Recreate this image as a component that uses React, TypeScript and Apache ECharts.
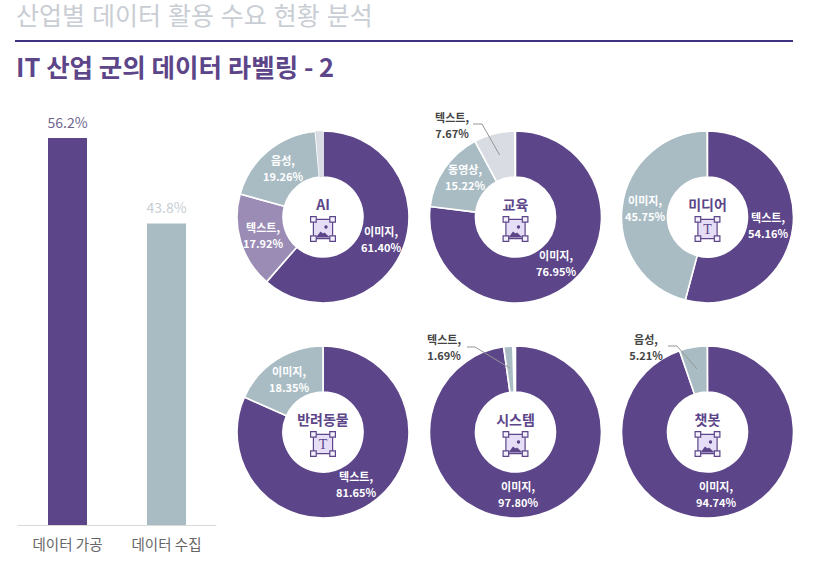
import React, { useEffect, useRef } from "react";
import * as echarts from "echarts";

const FONT = "'Noto Sans CJK KR', 'Noto Sans', sans-serif";
const HEAD_FONT = "'Liberation Sans', 'Noto Sans CJK KR', sans-serif";
const PURPLE = "#5c4589";
const LILAC = "#9b8cb6";
const STEEL = "#a9bcc4";
const PALE = "#d9dce2";

const barCategories = ["데이터 가공", "데이터 수집"];
const barValues = [56.2, 43.8];

const titles = ["AI", "교육", "미디어", "반려동물", "시스템", "챗봇"];
const iconKinds = ["image", "image", "text", "text", "image", "image"];

const aiNames = ["이미지", "텍스트", "음성", "기타"];
const aiValues = [61.4, 17.92, 19.26, 1.42];
const aiColors = [PURPLE, LILAC, STEEL, PALE];

const eduNames = ["이미지", "동영상", "텍스트", "기타"];
const eduValues = [76.95, 15.22, 7.67, 0.16];
const eduColors = [PURPLE, STEEL, PALE, "#ffffff"];

const mediaNames = ["텍스트", "이미지", "기타"];
const mediaValues = [54.16, 45.75, 0.09];
const mediaColors = [PURPLE, STEEL, "#ffffff"];

const petNames = ["텍스트", "이미지"];
const petValues = [81.65, 18.35];
const petColors = [PURPLE, STEEL];

const systemNames = ["이미지", "텍스트", "기타"];
const systemValues = [97.8, 1.69, 0.51];
const systemColors = [PURPLE, STEEL, "#ffffff"];

const chatNames = ["이미지", "음성", "기타"];
const chatValues = [94.74, 5.21, 0.05];
const chatColors = [PURPLE, STEEL, "#ffffff"];

const pieNames = [aiNames, eduNames, mediaNames, petNames, systemNames, chatNames];
const pieValues = [aiValues, eduValues, mediaValues, petValues, systemValues, chatValues];
const pieColors = [aiColors, eduColors, mediaColors, petColors, systemColors, chatColors];
const pieCenters = [
  [323, 217],
  [515.5, 217],
  [707.5, 217],
  [323, 432],
  [515.5, 432],
  [707.5, 432],
];
const R_OUT = 86;
const R_IN = 40;

// where each slice's two-line label is centred, per pie and slice
const labelSpots: Record<string, [number, number]> = {
  "0-0": [381, 239],
  "0-1": [263, 235],
  "0-2": [283, 168],
  "1-0": [556, 263],
  "1-1": [465, 177],
  "1-2": [452, 125],
  "2-0": [768, 225],
  "2-1": [645, 208],
  "3-0": [356, 484],
  "3-1": [289, 379],
  "4-0": [518, 494],
  "4-1": [444, 347],
  "5-0": [716, 494],
  "5-1": [646, 347],
};

// leader lines for the labels placed outside the ring
const callouts = [
  { pie: 1, slice: 2, ex: 482, ey: 124, sx: 473 },
  { pie: 4, slice: 1, ex: 475, ey: 347, sx: 467 },
  { pie: 5, slice: 1, ex: 677, ey: 346, sx: 668 },
];

function midAngle(values: number[], index: number) {
  const total = values.reduce((a, b) => a + b, 0);
  let before = 0;
  for (let i = 0; i < index; i++) before += values[i];
  return ((before + values[index] / 2) / total) * Math.PI * 2;
}

function iconGraphic(kind: string, cx: number, cy: number) {
  const half = 9.6;
  const corner = [
    [-half, -half],
    [half, -half],
    [-half, half],
    [half, half],
  ];
  const children: any[] = [
    {
      type: "rect",
      shape: { x: -half, y: -half, width: half * 2, height: half * 2 },
      style: { fill: "#e6def6", stroke: PURPLE, lineWidth: 1.2 },
    },
  ];
  if (kind === "image") {
    children.push(
      {
        type: "polygon",
        shape: { points: [[-7, 8.6], [-2.5, 2.5], [0, 4.5], [1.5, 3.5], [7, 8.6]] },
        style: { fill: PURPLE },
      },
      { type: "circle", shape: { cx: 3, cy: -2, r: 1.7 }, style: { fill: PURPLE } }
    );
  } else {
    children.push({
      type: "text",
      style: {
        x: 0,
        y: 0.5,
        text: "T",
        fill: PURPLE,
        font: "400 14px 'Liberation Serif', serif",
        align: "center",
        verticalAlign: "middle",
      },
    });
  }
  corner.forEach(([x, y]) =>
    children.push({
      type: "rect",
      shape: { x: x - 2.8, y: y - 2.8, width: 5.6, height: 5.6 },
      style: { fill: "#f4f0fb", stroke: PURPLE, lineWidth: 1.2 },
    })
  );
  return { type: "group", x: cx, y: cy, children };
}

export default function App() {
  const ref = useRef<HTMLDivElement>(null);
  useEffect(() => {
    const chart = echarts.init(ref.current!, undefined, { renderer: "svg" });

    const graphics: any[] = [
      {
        type: "text",
        style: { x: 16, y: 16, text: "산업별 데이터 활용 수요 현황 분석", fill: "#c9cdd4", font: `400 25px ${HEAD_FONT}`, verticalAlign: "middle" },
      },
      { type: "rect", shape: { x: 15, y: 40, width: 778, height: 2 }, style: { fill: "#3f3180" } },
      {
        type: "text",
        style: { x: 16, y: 65.5, text: "IT 산업 군의 데이터 라벨링 - 2", fill: PURPLE, font: `700 25.5px ${FONT}`, verticalAlign: "middle" },
      },
    ];

    titles.forEach((t, i) => {
      const [cx, cy] = pieCenters[i];
      graphics.push({
        type: "text",
        z: 10,
        style: { x: cx, y: cy - 13, text: t, fill: PURPLE, font: `700 14px ${FONT}`, align: "center", verticalAlign: "middle" },
      });
      graphics.push({ ...iconGraphic(iconKinds[i], cx, cy + 12), z: 10 });
    });

    callouts.forEach((c) => {
      const [cx, cy] = pieCenters[c.pie];
      const a = midAngle(pieValues[c.pie], c.slice);
      graphics.push({
        type: "polyline",
        z: 10,
        shape: {
          points: [
            [c.sx, c.ey],
            [c.ex, c.ey],
            [cx + 64 * Math.sin(a), cy - 64 * Math.cos(a)],
          ],
        },
        style: { fill: "none", stroke: "#969696", lineWidth: 1 },
      });
    });

    const pies = pieValues.map((values, p) => ({
      type: "pie",
      center: pieCenters[p],
      radius: [R_IN, R_OUT],
      startAngle: 90,
      clockwise: true,
      silent: true,
      avoidLabelOverlap: false,
      data: values.map((v, i) => {
        const outside = callouts.some((c) => c.pie === p && c.slice === i);
        const hidden = pieNames[p][i] === "기타";
        return {
          name: pieNames[p][i],
          value: v,
          itemStyle: { color: pieColors[p][i], borderColor: "#ffffff", borderWidth: hidden ? 0 : 1.6 },
          label: {
            show: !hidden,
            position: "inside",
            color: outside ? "#444444" : "#ffffff",
            fontFamily: FONT,
            fontSize: 11,
            fontWeight: 700,
            lineHeight: 16.5,
            align: "center",
            verticalAlign: "middle",
            formatter: `${pieNames[p][i]},\n${v.toFixed(2)}%`,
          },
        };
      }),
      labelLine: { show: false },
      labelLayout: (params: any) => {
        const spot = labelSpots[`${p}-${params.dataIndex}`];
        return spot ? { x: spot[0], y: spot[1], align: "center", verticalAlign: "middle" } : {};
      },
    }));

    chart.setOption({
      animation: false,
      backgroundColor: "#ffffff",
      graphic: graphics,
      grid: { left: 18, width: 198, top: 138, height: 387, containLabel: false },
      xAxis: {
        type: "category",
        data: barCategories,
        axisLine: { lineStyle: { color: "#d9d9d9", width: 1 } },
        axisTick: { show: false },
        axisLabel: { color: "#666666", fontFamily: FONT, fontSize: 14.5, margin: 11 },
      },
      yAxis: { type: "value", min: 0, max: 56.2, show: false, splitLine: { show: false } },
      series: [
        {
          type: "bar",
          barWidth: 39,
          silent: true,
          data: barValues.map((v, i) => ({
            value: v,
            itemStyle: { color: i === 0 ? PURPLE : STEEL },
            label: { color: i === 0 ? "#6f6690" : "#c6ced3" },
          })),
          label: {
            show: true,
            position: "top",
            distance: 9.5,
            fontFamily: FONT,
            fontSize: 14,
            formatter: (p: any) => `${p.value}%`,
          },
        },
        ...pies,
      ],
    });
    return () => chart.dispose();
  }, []);
  return <div ref={ref} style={{ position: "absolute", left: 0, top: 0, width: 826, height: 567 }} />;
}
